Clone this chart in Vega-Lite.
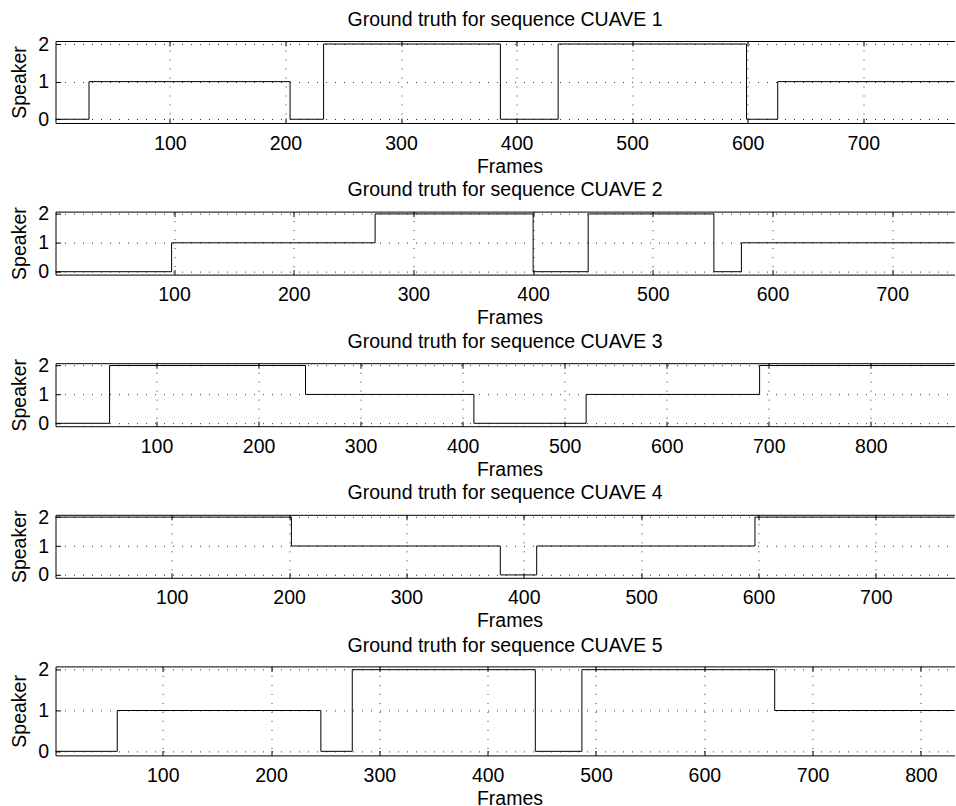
{
  "$schema": "https://vega.github.io/schema/vega-lite/v6.json",
  "padding": {"left": 8.5, "top": 10, "right": 0, "bottom": 0},
  "spacing": 88.6,
  "bounds": "flush",
  "config": {
    "font": "Liberation Sans",
    "view": {"stroke": null},
    "axis": {"domainColor": "#000", "domainWidth": 1, "tickColor": "#000", "tickSize": -5, "tickWidth": 1, "labelColor": "#000", "labelFontSize": 19.5, "labelFont": "Liberation Sans", "titleColor": "#000", "titleFontSize": 19.5, "titleFontWeight": "normal", "titleFont": "Liberation Sans", "gridColor": "#000", "gridDash": [1, 8], "gridWidth": 1, "gridOpacity": 0.8, "labelFlush": false, "labelOverlap": false},
    "axisBottom": {"labelPadding": 16, "titleY": 49, "titleX": 454, "titleBaseline": "alphabetic"},
    "axisLeft": {"labelPadding": 12, "titleX": -30.3, "titleBaseline": "alphabetic"},
    "title": {"fontSize": 19.5, "fontWeight": "normal", "font": "Liberation Sans", "color": "#000", "frame": "group", "anchor": "middle", "baseline": "alphabetic", "offset": 3.5}
  },
  "datasets": {
    "gt": [
      {"seq": 1, "frame": 1, "speaker": 0}, {"seq": 1, "frame": 30, "speaker": 1}, {"seq": 1, "frame": 204, "speaker": 0}, {"seq": 1, "frame": 233, "speaker": 2}, {"seq": 1, "frame": 386, "speaker": 0}, {"seq": 1, "frame": 436, "speaker": 2}, {"seq": 1, "frame": 599, "speaker": 0}, {"seq": 1, "frame": 626, "speaker": 1}, {"seq": 1, "frame": 779, "speaker": 1},
      {"seq": 2, "frame": 1, "speaker": 0}, {"seq": 2, "frame": 98, "speaker": 1}, {"seq": 2, "frame": 268, "speaker": 2}, {"seq": 2, "frame": 400, "speaker": 0}, {"seq": 2, "frame": 446, "speaker": 2}, {"seq": 2, "frame": 551, "speaker": 0}, {"seq": 2, "frame": 574, "speaker": 1}, {"seq": 2, "frame": 752, "speaker": 1},
      {"seq": 3, "frame": 1, "speaker": 0}, {"seq": 3, "frame": 54, "speaker": 2}, {"seq": 3, "frame": 246, "speaker": 1}, {"seq": 3, "frame": 411, "speaker": 0}, {"seq": 3, "frame": 521, "speaker": 1}, {"seq": 3, "frame": 691, "speaker": 2}, {"seq": 3, "frame": 882, "speaker": 2},
      {"seq": 4, "frame": 1, "speaker": 2}, {"seq": 4, "frame": 202, "speaker": 1}, {"seq": 4, "frame": 380, "speaker": 0}, {"seq": 4, "frame": 411, "speaker": 1}, {"seq": 4, "frame": 597, "speaker": 2}, {"seq": 4, "frame": 767, "speaker": 2},
      {"seq": 5, "frame": 1, "speaker": 0}, {"seq": 5, "frame": 58, "speaker": 1}, {"seq": 5, "frame": 246, "speaker": 0}, {"seq": 5, "frame": 275, "speaker": 2}, {"seq": 5, "frame": 444, "speaker": 0}, {"seq": 5, "frame": 487, "speaker": 2}, {"seq": 5, "frame": 665, "speaker": 1}, {"seq": 5, "frame": 831, "speaker": 1}
    ]
  },
  "vconcat": [
    {
      "width": 899, "height": 82,
      "title": {"text": "Ground truth for sequence CUAVE 1"},
      "data": {"name": "gt"},
      "transform": [{"filter": "datum.seq == 1"}],
      "layer": [
        {"mark": {"type": "line", "interpolate": "step-after", "color": "#000", "strokeWidth": 1},
         "encoding": {
           "x": {"field": "frame", "type": "quantitative", "scale": {"domain": [1, 779], "nice": false, "zero": false}, "axis": {"values": [100, 200, 300, 400, 500, 600, 700], "grid": true, "title": "Frames"}},
           "y": {"field": "speaker", "type": "quantitative", "scale": {"domain": [-0.1, 2.08], "nice": false, "zero": false}, "axis": {"values": [0, 1, 2], "format": "d", "grid": true, "title": "Speaker"}}}},
        {"mark": {"type": "line", "interpolate": "step-after", "opacity": 0},
         "encoding": {
           "x": {"field": "frame", "type": "quantitative", "scale": {"domain": [1, 779], "nice": false, "zero": false}, "axis": {"orient": "top", "values": [100, 200, 300, 400, 500, 600, 700], "labels": false, "grid": false, "title": null}}}}
      ],
      "resolve": {"axis": {"x": "independent"}}
    },
    {
      "width": 899, "height": 63,
      "title": {"text": "Ground truth for sequence CUAVE 2"},
      "data": {"name": "gt"},
      "transform": [{"filter": "datum.seq == 2"}],
      "layer": [
        {"mark": {"type": "line", "interpolate": "step-after", "color": "#000", "strokeWidth": 1},
         "encoding": {
           "x": {"field": "frame", "type": "quantitative", "scale": {"domain": [1, 752], "nice": false, "zero": false}, "axis": {"values": [100, 200, 300, 400, 500, 600, 700], "grid": true, "title": "Frames"}},
           "y": {"field": "speaker", "type": "quantitative", "scale": {"domain": [-0.1, 2.08], "nice": false, "zero": false}, "axis": {"values": [0, 1, 2], "format": "d", "grid": true, "title": "Speaker"}}}},
        {"mark": {"type": "line", "interpolate": "step-after", "opacity": 0},
         "encoding": {
           "x": {"field": "frame", "type": "quantitative", "scale": {"domain": [1, 752], "nice": false, "zero": false}, "axis": {"orient": "top", "values": [100, 200, 300, 400, 500, 600, 700], "labels": false, "grid": false, "title": null}}}}
      ],
      "resolve": {"axis": {"x": "independent"}}
    },
    {
      "width": 899, "height": 63,
      "title": {"text": "Ground truth for sequence CUAVE 3"},
      "data": {"name": "gt"},
      "transform": [{"filter": "datum.seq == 3"}],
      "layer": [
        {"mark": {"type": "line", "interpolate": "step-after", "color": "#000", "strokeWidth": 1},
         "encoding": {
           "x": {"field": "frame", "type": "quantitative", "scale": {"domain": [1, 882], "nice": false, "zero": false}, "axis": {"values": [100, 200, 300, 400, 500, 600, 700, 800], "grid": true, "title": "Frames"}},
           "y": {"field": "speaker", "type": "quantitative", "scale": {"domain": [-0.1, 2.08], "nice": false, "zero": false}, "axis": {"values": [0, 1, 2], "format": "d", "grid": true, "title": "Speaker"}}}},
        {"mark": {"type": "line", "interpolate": "step-after", "opacity": 0},
         "encoding": {
           "x": {"field": "frame", "type": "quantitative", "scale": {"domain": [1, 882], "nice": false, "zero": false}, "axis": {"orient": "top", "values": [100, 200, 300, 400, 500, 600, 700, 800], "labels": false, "grid": false, "title": null}}}}
      ],
      "resolve": {"axis": {"x": "independent"}}
    },
    {
      "width": 899, "height": 63,
      "title": {"text": "Ground truth for sequence CUAVE 4"},
      "data": {"name": "gt"},
      "transform": [{"filter": "datum.seq == 4"}],
      "layer": [
        {"mark": {"type": "line", "interpolate": "step-after", "color": "#000", "strokeWidth": 1},
         "encoding": {
           "x": {"field": "frame", "type": "quantitative", "scale": {"domain": [1, 767], "nice": false, "zero": false}, "axis": {"values": [100, 200, 300, 400, 500, 600, 700], "grid": true, "title": "Frames"}},
           "y": {"field": "speaker", "type": "quantitative", "scale": {"domain": [-0.1, 2.08], "nice": false, "zero": false}, "axis": {"values": [0, 1, 2], "format": "d", "grid": true, "title": "Speaker"}}}},
        {"mark": {"type": "line", "interpolate": "step-after", "opacity": 0},
         "encoding": {
           "x": {"field": "frame", "type": "quantitative", "scale": {"domain": [1, 767], "nice": false, "zero": false}, "axis": {"orient": "top", "values": [100, 200, 300, 400, 500, 600, 700], "labels": false, "grid": false, "title": null}}}}
      ],
      "resolve": {"axis": {"x": "independent"}}
    },
    {
      "width": 899, "height": 89,
      "title": {"text": "Ground truth for sequence CUAVE 5"},
      "data": {"name": "gt"},
      "transform": [{"filter": "datum.seq == 5"}],
      "layer": [
        {"mark": {"type": "line", "interpolate": "step-after", "color": "#000", "strokeWidth": 1},
         "encoding": {
           "x": {"field": "frame", "type": "quantitative", "scale": {"domain": [1, 831], "nice": false, "zero": false}, "axis": {"values": [100, 200, 300, 400, 500, 600, 700, 800], "grid": true, "title": "Frames"}},
           "y": {"field": "speaker", "type": "quantitative", "scale": {"domain": [-0.1, 2.08], "nice": false, "zero": false}, "axis": {"values": [0, 1, 2], "format": "d", "grid": true, "title": "Speaker"}}}},
        {"mark": {"type": "line", "interpolate": "step-after", "opacity": 0},
         "encoding": {
           "x": {"field": "frame", "type": "quantitative", "scale": {"domain": [1, 831], "nice": false, "zero": false}, "axis": {"orient": "top", "values": [100, 200, 300, 400, 500, 600, 700, 800], "labels": false, "grid": false, "title": null}}}}
      ],
      "resolve": {"axis": {"x": "independent"}}
    }
  ]
}
